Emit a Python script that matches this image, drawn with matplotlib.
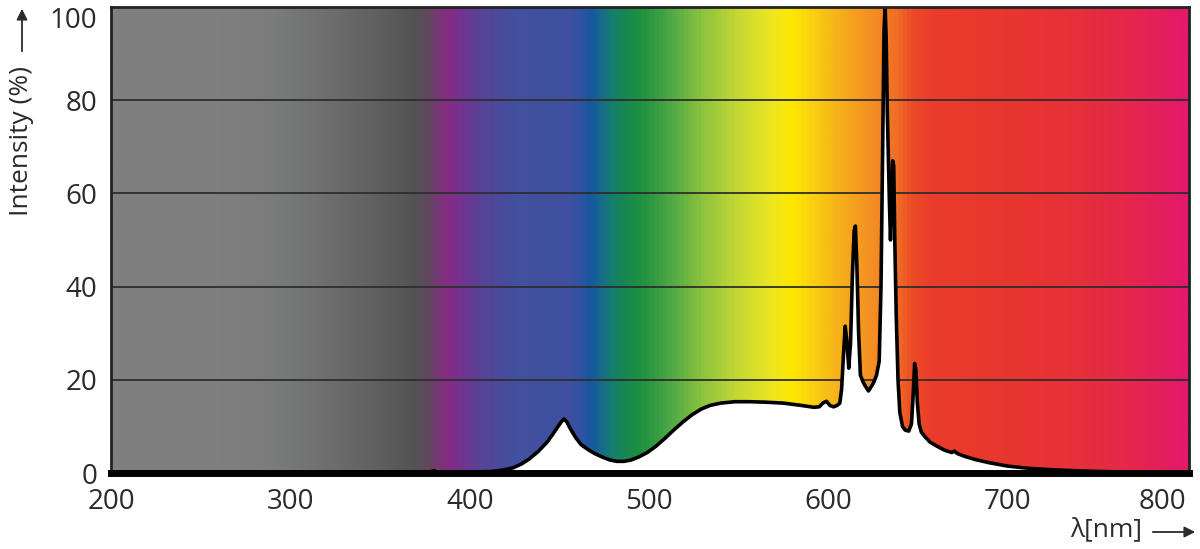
import numpy as np
import matplotlib
matplotlib.use("Agg")
import matplotlib.pyplot as plt
from matplotlib.colors import LinearSegmentedColormap

plt.rcParams['font.family'] = ['Open Sans', 'DejaVu Sans']

# emission spectrum (nm, %)
wavelength = [200, 375, 380, 381, 385, 400, 411, 418, 424, 429, 433, 438, 443, 446,
              449, 451, 452.5, 454, 456, 459, 462, 466, 470, 474, 478, 482, 486, 490,
              494, 499, 504, 509, 514, 519, 524, 529, 534, 540, 548, 556, 565, 575,
              585, 592, 595, 597, 599, 601, 603, 605, 606.5, 607.5, 608.5, 609.5,
              610.5, 611.5, 612.5, 613.5, 614.5, 615.2, 616, 617, 618, 619.5, 621,
              622.5, 624, 625.5, 627, 628.5, 629.5, 630.5, 631.2, 631.8, 632.4, 633,
              633.6, 634.2, 634.8, 635.4, 636, 636.6, 637.2, 638, 639, 640, 641.5,
              643, 645, 646.5, 647.5, 648.3, 649, 649.8, 650.8, 652, 654, 657, 661,
              665, 669, 670.5, 672, 676, 682, 690, 700, 712, 725, 740, 760, 780, 800]
intensity = [0, 0, 0.5, 0.1, 0.2, 0.2, 0.3, 0.6, 1.1, 2.0, 3.0, 4.6, 6.6, 8.2,
             9.9, 11.0, 11.6, 11.0, 9.5, 7.6, 6.1, 5.0, 4.1, 3.4, 2.8, 2.5, 2.5, 2.8,
             3.4, 4.4, 5.8, 7.5, 9.3, 11.0, 12.5, 13.7, 14.5, 15.0, 15.3, 15.3, 15.2, 15.0,
             14.5, 14.1, 14.2, 15.0, 15.4, 14.5, 14.2, 14.5, 15.0, 18, 25, 31.5,
             28, 22.5, 28, 42, 52, 53, 45, 30, 21, 19.5, 18.5,
             17.6, 18.5, 19.5, 21, 24, 40, 72, 95, 100, 93, 78,
             68, 58, 50, 58, 67, 66, 50, 34, 20, 13, 10,
             9.2, 9.0, 10.5, 17, 23.5, 22, 15, 10.5, 8.8, 7.8, 6.6, 5.7,
             4.9, 4.4, 4.7, 4.2, 3.6, 2.9, 2.2, 1.5, 1.0, 0.7, 0.45, 0.25, 0.1, 0]

# background colour band (nm -> colour)
band_nm = [200, 260, 290, 320, 350, 368, 376, 383, 388, 396, 408, 425, 455, 462,
           468, 474, 480, 492, 500, 512, 530, 550, 568, 580, 586, 600, 615, 628,
           640, 648, 660, 700, 740, 770, 801.5]
band_col = ['#808080', '#7f7f7f', '#7a7c7b', '#6e6e6e', '#5e5e5e', '#535353', '#60485f',
            '#7d3378', '#862c84', '#6f3592', '#534597', '#42509f', '#3e51a0', '#2f54a0',
            '#1558a0', '#186e88', '#177f6a', '#1a8e42', '#2a9640', '#4ea846', '#8dc33f',
            '#c5d833', '#ece624', '#fee800', '#fcdc0a', '#f8be17', '#f5a020', '#f38a24',
            '#ef6a25', '#ec4a27', '#ea3c2b', '#e8372f', '#e6303a', '#e5264c', '#e3196b']

x0, x1 = 199.5, 801.5
txt = '#2b2b2b'

fig = plt.figure(figsize=(12, 5.49), dpi=100)
ax = fig.add_axes([111/1200, 1-473/549, (1189-111)/1200, (473-7)/549])

lo, hi = band_nm[0], band_nm[-1]
pos = [(v - lo) / (hi - lo) for v in band_nm]
cmap = LinearSegmentedColormap.from_list('band', list(zip(pos, band_col)))
grad = np.linspace(x0, x1, 1200).reshape(1, -1)
ax.imshow(grad, extent=[x0, x1, 0, 100], aspect='auto', cmap=cmap,
          vmin=lo, vmax=hi, zorder=0, interpolation='bilinear')

for g in [20, 40, 60, 80]:
    ax.axhline(g, color='#2e2e2e', lw=1.3, zorder=1)

ax.fill_between(wavelength, intensity, 0, color='white', zorder=2, lw=0)
ax.plot(wavelength, intensity, color='black', lw=2.6, zorder=3, solid_joinstyle='round')

ax.set_xlim(x0, x1)
ax.set_ylim(0, 100)
ax.set_xticks(range(200, 801, 100))
ax.set_yticks(range(0, 101, 20))
ax.tick_params(length=0, labelsize=20, colors=txt)
ax.tick_params(axis='y', pad=10)
ax.tick_params(axis='x', pad=11)
ax.get_yticklabels()[-1].set_va('top')
ax.get_xticklabels()[-1].set_ha('right')

for side in ['left', 'top', 'right']:
    ax.spines[side].set_color('#222222')
    ax.spines[side].set_linewidth(2)
ax.spines['bottom'].set_color('black')
ax.spines['bottom'].set_linewidth(5)
for s in ax.spines.values():
    s.set_zorder(5)

# axis titles with arrows
fig.text(22/1200, 1-141/549, 'Intensity (%)', rotation=90, ha='center', va='center',
         fontsize=19, color=txt)
fig.text(1106/1200, 1-530/549, 'λ[nm]', ha='center', va='center', fontsize=19, color=txt)
arrow = dict(arrowstyle='-|>', color=txt, lw=1.3, mutation_scale=16)
ax.annotate('', xy=(22/1200, 1-6/549), xytext=(22/1200, 1-54/549),
            xycoords='figure fraction', arrowprops=arrow)
ax.annotate('', xy=(1198/1200, 1-532/549), xytext=(1150/1200, 1-532/549),
            xycoords='figure fraction', arrowprops=arrow)

fig.savefig('out.png', dpi=100)
